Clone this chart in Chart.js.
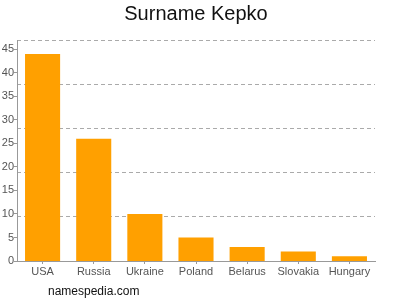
<!DOCTYPE html>
<html>
<head>
<meta charset="UTF-8">
<script src="https://cdn.jsdelivr.net/npm/chart.js"></script>
<style>
  body { margin: 0; background: #fff; font-family: 'Liberation Sans', Arial, sans-serif; }
  .wrap { position: relative; width: 400px; height: 300px; }
  .title { position: absolute; left: 0; top: 2px; width: 392px; text-align: center; font-size: 20px; color: #111; }
  .foot { position: absolute; left: 48px; top: 284px; font-size: 12px; color: #111; }
  canvas { position: absolute; left: 0; top: 0; }
</style>
</head>
<body>
<div class="wrap">
  <canvas id="c" width="400" height="300"></canvas>
  <div class="title">Surname Kepko</div>
  <div class="foot">namespedia.com</div>
</div>
<script>
const countries = ['USA', 'Russia', 'Ukraine', 'Poland', 'Belarus', 'Slovakia', 'Hungary'];
const counts = [44, 26, 10, 5, 3, 2, 1];
const yTicks = [0, 5, 10, 15, 20, 25, 30, 35, 40, 45];
const gridLines = [9.4, 18.8, 28.2, 37.6, 47];
const yMax = 47;

new Chart(document.getElementById('c'), {
  type: 'bar',
  data: {
    labels: countries,
    datasets: [{ data: counts, backgroundColor: '#ffa000', categoryPercentage: 0.7, barPercentage: 0.98 }]
  },
  options: {
    responsive: false,
    animation: false,
    layout: { padding: { top: 40, right: 25, left: 0, bottom: 0 } },
    plugins: { legend: { display: false }, tooltip: { enabled: false } },
    scales: {
      g: {
        position: 'left',
        min: 0, max: yMax,
        afterBuildTicks: s => { s.ticks = gridLines.map(v => ({ value: v })); },
        grid: { color: '#aaa', lineWidth: 1, drawTicks: false },
        border: { display: false, dash: [4, 3] },
        ticks: { display: false },
        afterFit: s => { s.width = 0; }
      },
      x: {
        grid: { display: true, drawOnChartArea: false, tickLength: 3, color: '#999', offset: false },
        border: { color: '#999' },
        ticks: { color: '#555', font: { family: 'Liberation Sans', size: 11 }, padding: 1, maxRotation: 0 },
        afterFit: s => { s.height = 39; }
      },
      y: {
        min: 0, max: yMax,
        afterBuildTicks: s => { s.ticks = yTicks.map(v => ({ value: v })); },
        grid: { display: true, drawOnChartArea: false, tickLength: 3, color: '#999' },
        border: { color: '#999' },
        ticks: { color: '#555', font: { family: 'Liberation Sans', size: 11 }, padding: 0 },
        afterFit: s => { s.width = 17; }
      }
    }
  }
});
</script>
</body>
</html>
